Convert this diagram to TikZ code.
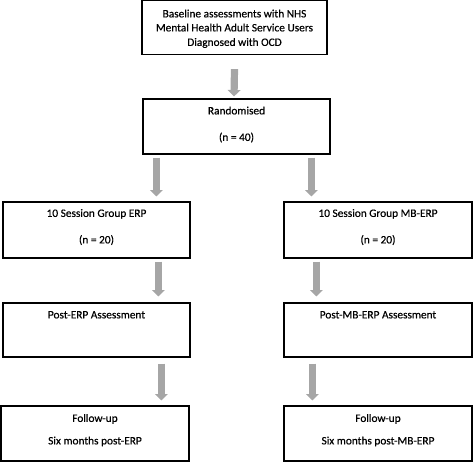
\documentclass[tikz,border=0pt]{standalone}
\usepackage{fontspec}
\setmainfont{Carlito}
\newfontfamily\boxfont[FakeBold=0.5]{Carlito}
\usetikzlibrary{arrows.meta,calc}
\definecolor{arrgray}{HTML}{A6A6A6}
\tikzset{
  box/.style={draw=black, line width=0.9pt, rectangle, inner sep=0pt, align=center,
    font=\boxfont\fontsize{8.5}{11}\selectfont},
  txt/.style={inner sep=0pt, anchor=base, font=\boxfont\fontsize{8.5}{11}\selectfont},
  arr/.style={draw=arrgray, line width=5.4pt,
    -{Triangle[width=9.5pt,length=4.8pt]}, shorten >=0pt}
}
\begin{document}
\begin{tikzpicture}[x=0.75pt,y=-0.75pt]
\useasboundingbox (0,0) rectangle (473,462);
% boxes
\node[box, minimum width=185*0.75pt, minimum height=54*0.75pt] (b1) at (234.5,27.5) {};
\node[box, minimum width=187*0.75pt, minimum height=55*0.75pt] (b2) at (236.5,126.5) {};
\node[box, minimum width=187*0.75pt, minimum height=56*0.75pt] (b3l) at (96.5,230) {};
\node[box, minimum width=188*0.75pt, minimum height=56*0.75pt] (b3r) at (378,230) {};
\node[box, minimum width=187*0.75pt, minimum height=54*0.75pt] (b4l) at (96.5,330) {};
\node[box, minimum width=188*0.75pt, minimum height=54*0.75pt] (b4r) at (378,330) {};
\node[box, minimum width=188*0.75pt, minimum height=55*0.75pt] (b5l) at (95,433.5) {};
\node[box, minimum width=188*0.75pt, minimum height=55*0.75pt] (b5r) at (378,433.5) {};
% texts
\node[txt] (t1a) at ($(b1.north)+(0,17.5)$) {Baseline assessments with NHS};
\node[txt] (t1b) at ($(b1.north)+(0,31.5)$) {Mental Health Adult Service Users};
\node[txt] (t1c) at ($(b1.north)+(0,46)$) {Diagnosed with OCD};
\node[txt] (t2a) at ($(b2.north)+(0,16)$) {Randomised};
\node[txt] (t2b) at ($(b2.north)+(0,42.5)$) {(n = 40)};
\node[txt] (t3la) at ($(b3l.north)+(0,15.5)$) {10 Session Group ERP};
\node[txt] (t3lb) at ($(b3l.north)+(0,42)$) {(n = 20)};
\node[txt] (t3ra) at ($(b3r.north)+(0,15.5)$) {10 Session Group MB-ERP};
\node[txt] (t3rb) at ($(b3r.north)+(0,42)$) {(n = 20)};
\node[txt] (t4l) at ($(b4l.north)+(0,16)$) {Post-ERP Assessment};
\node[txt] (t4r) at ($(b4r.north)+(0,16)$) {Post-MB-ERP Assessment};
\node[txt] (t5la) at ($(b5l.north)+(0,16.5)$) {Follow-up};
\node[txt] (t5lb) at ($(b5l.north)+(0,39)$) {Six months post-ERP};
\node[txt] (t5ra) at ($(b5r.north)+(0,16.5)$) {Follow-up};
\node[txt] (t5rb) at ($(b5r.north)+(0,39)$) {Six months post-MB-ERP};
% arrows
\draw[arr] ($(b1.south)+(0,14)$) -- ($(b2.north)+(-2.5,-2)$);
\draw[arr] ($(b2.south west)+(14,3)$) -- ($(b3l.north west)+(154,-5)$);
\draw[arr] ($(b2.south west)+(169,3)$) -- ($(b3r.north west)+(28,-5)$);
\draw[arr] ($(b3l.south west)+(156,3)$) -- ($(b4l.north west)+(156,-6)$);
\draw[arr] ($(b3r.south west)+(33,3)$) -- ($(b4r.north west)+(33,-6)$);
\draw[arr] ($(b4l.south west)+(159,6)$) -- ($(b5l.north west)+(161,-5)$);
\draw[arr] ($(b4r.south west)+(29,6)$) -- ($(b5r.north west)+(29,-5)$);
\end{tikzpicture}
\end{document}
